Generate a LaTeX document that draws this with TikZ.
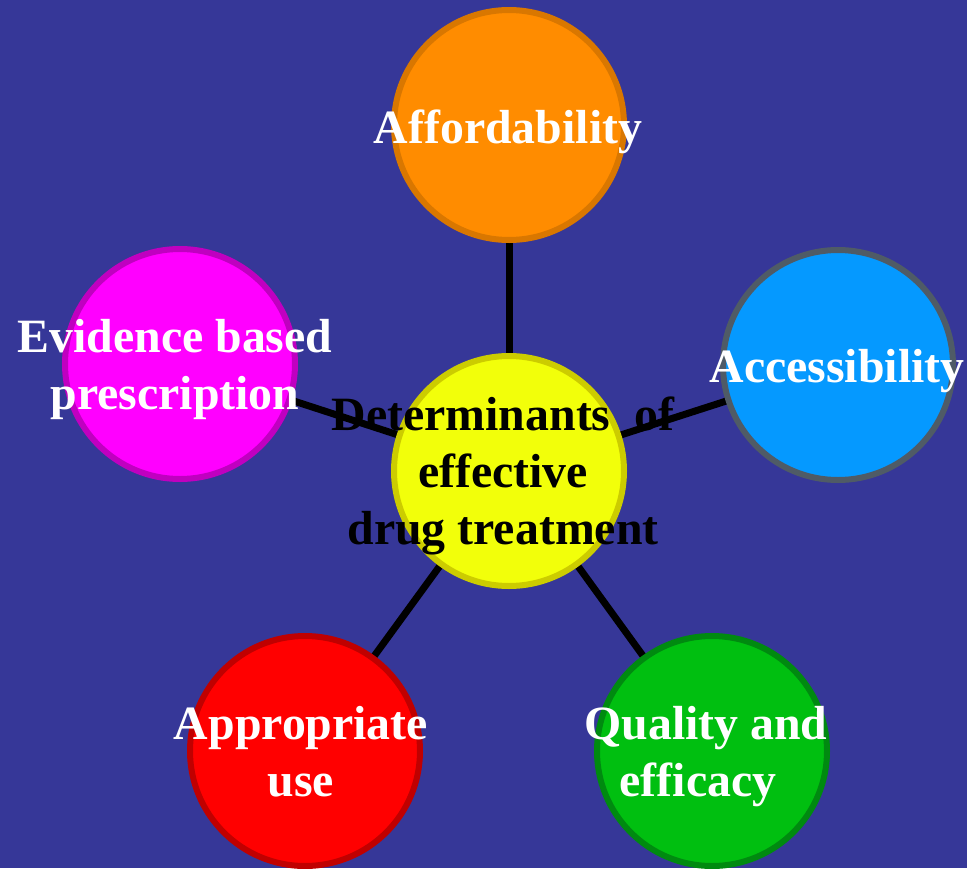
\documentclass[tikz,border=0pt]{standalone}
\usepackage{fontspec}
\setmainfont{Liberation Serif}
\pgfdeclarelayer{back}
\pgfdeclarelayer{links}
\pgfsetlayers{back,links,main}
\definecolor{bgblue}{HTML}{363798}
\definecolor{orfill}{HTML}{FF8C00}
\definecolor{ordraw}{HTML}{D97700}
\definecolor{blfill}{HTML}{0599FF}
\definecolor{bldraw}{HTML}{4F5B66}
\definecolor{mgfill}{HTML}{FF00FF}
\definecolor{mgdraw}{HTML}{C000C0}
\definecolor{ylfill}{HTML}{F2FF0A}
\definecolor{yldraw}{HTML}{CCCC00}
\definecolor{rdfill}{HTML}{FF0000}
\definecolor{rddraw}{HTML}{C00000}
\definecolor{grfill}{HTML}{00BF10}
\definecolor{grdraw}{HTML}{008A10}
\tikzset{
  disc/.style={circle, minimum size=230pt, inner sep=0pt, line width=6pt},
  link/.style={line width=7pt, black},
  lbl/.style={anchor=base, inner sep=0pt, font=\fontsize{47.8}{57}\selectfont\bfseries, text=white},
  clbl/.style={lbl, text=black}
}
\newcommand{\lines}[1]{\begin{tabular}[t]{@{}c@{}}#1\end{tabular}}
\begin{document}
\begin{tikzpicture}[x=1pt,y=-1pt]
\begin{pgfonlayer}{back}
\fill[bgblue] (0,0) rectangle (967,868);
\end{pgfonlayer}
\useasboundingbox (0,0) rectangle (967,868);
\node[disc, fill=ylfill, draw=yldraw] (c) at (509,471) {};
\node[disc, fill=orfill, draw=ordraw] (aff) at (509,125) {};
\node[disc, fill=blfill, draw=bldraw] (acc) at (838,365) {};
\node[disc, fill=mgfill, draw=mgdraw] (evi) at (180,364) {};
\node[disc, fill=rdfill, draw=rddraw] (app) at (305,751) {};
\node[disc, fill=grfill, draw=grdraw] (qua) at (712,751) {};
\begin{pgfonlayer}{links}
\foreach \n in {aff,acc,evi,app,qua} \draw[link] (c.center) -- (\n.center);
\end{pgfonlayer}
\node[clbl] (ct) at (503,430) {\lines{Determinants\ \ of\\effective\\drug treatment}};
\node[lbl] (afft) at (508,143) {Affordability};
\node[lbl] (acct) at (837,382) {Accessibility};
\node[lbl] (evit) at (175,352) {\lines{Evidence based\\prescription}};
\node[lbl] (appt) at (301,739) {\lines{Appropriate\\use}};
\node[lbl] (quat) at (706,739) {\lines{Quality and\\efficacy\hspace*{16pt}}};
\end{tikzpicture}
\end{document}
